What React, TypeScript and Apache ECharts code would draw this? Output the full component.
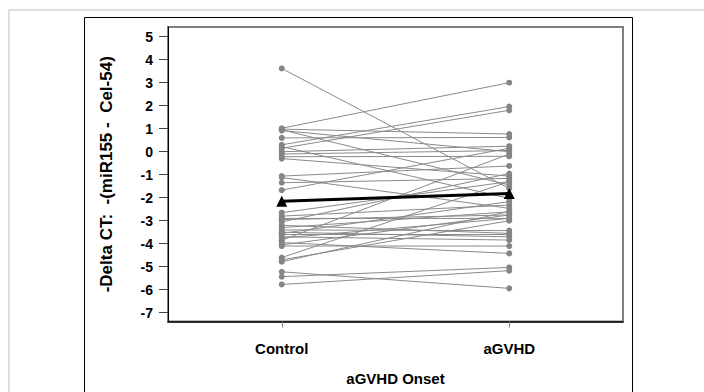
import React, { useEffect, useRef } from "react";
import * as echarts from "echarts";

const categories = ["Control", "aGVHD"];
const yTicks = [-7, 5];
const controlValues = [
  3.62, 1.02, 0.98, 0.95, 0.92, 0.6, 0.3, 0.22, 0.15, 0.0, -0.1, -0.22, -0.3, -1.06, -1.12, -1.35, -1.67,
  -2.65, -2.8, -2.9, -2.95, -3.05, -3.2, -3.3, -3.4, -3.5, -3.55, -3.7, -3.75, -3.85, -3.95, -4.05, -4.1,
  -4.6, -4.7, -4.78, -5.22, -5.43, -5.77, -3.6,
];
const agvhdValues = [
  -1.6, 3.0, 0.77, -1.45, 0.0, 0.62, 1.96, -2.03, 1.8, 0.24, 0.05, -0.2, -1.06, -0.62, -2.46, -1.16, 0.15,
  -1.3, -2.32, -2.9, -2.75, -0.95, -3.55, -2.61, -3.43, -3.7, -2.17, -3.84, -2.9, -0.1, -4.42, -2.75, -4.1,
  -1.3, -3.0, -2.6, -5.94, -5.03, -5.17, -3.6,
];
const meanValues = [-2.15, -1.82];

const FONT = "'Liberation Sans', Arial, sans-serif";

export default function App() {
  const ref = useRef<HTMLDivElement>(null);
  useEffect(() => {
    if (!ref.current) return;
    const chart = echarts.init(ref.current, null, { renderer: "svg" });
    const subjectSeries = controlValues.map((c, i) => ({
      type: "line",
      xAxisIndex: 0,
      yAxisIndex: 0,
      data: [c, agvhdValues[i]],
      symbol: "circle",
      symbolSize: 6,
      itemStyle: { color: "#858585" },
      lineStyle: { color: "#8a8a8a", width: 1 },
      silent: true,
      z: 2,
    }));
    chart.setOption({
      animation: false,
      backgroundColor: "#fff",
      graphic: [
        { type: "rect", shape: { x: 9, y: 10, width: 740, height: 420 }, style: { fill: "none", stroke: "#dedede", lineWidth: 2 } },
        { type: "rect", shape: { x: 84.5, y: 17.5, width: 548, height: 420 }, style: { fill: "none", stroke: "#000", lineWidth: 1 } },
      ],
      grid: [
        { left: 168, top: 27, width: 455, height: 294.5, show: true, borderColor: "#808080", borderWidth: 2, backgroundColor: "transparent" },
        { left: 168, top: 36.7, width: 455, height: 276, show: false },
      ],
      xAxis: [
        {
          type: "category",
          gridIndex: 0,
          data: categories,
          boundaryGap: true,
          axisLine: { show: true, onZero: false, lineStyle: { color: "#000", width: 1.5 } },
          axisTick: { show: true, alignWithLabel: true, length: 6, lineStyle: { color: "#808080" } },
          axisLabel: { fontFamily: FONT, fontWeight: "bold", fontSize: 15, color: "#000", margin: 19 },
          name: "aGVHD Onset",
          nameLocation: "middle",
          nameGap: 49,
          nameTextStyle: { fontFamily: FONT, fontWeight: "bold", fontSize: 15, color: "#000" },
          splitLine: { show: false },
        },
        { type: "category", gridIndex: 1, data: categories, show: false },
      ],
      yAxis: [
        {
          type: "value",
          gridIndex: 0,
          min: -7.38,
          max: 5.42,
          axisLine: { show: true, lineStyle: { color: "#000", width: 1 } },
          axisTick: { show: false },
          axisLabel: { show: false },
          splitLine: { show: false },
          name: "-Delta CT:  -(miR155 -  Cel-54)",
          nameLocation: "middle",
          nameRotate: 90,
          nameGap: 53,
          nameTextStyle: { fontFamily: FONT, fontWeight: "bold", fontSize: 17, color: "#000" },
        },
        {
          type: "value",
          gridIndex: 1,
          min: yTicks[0],
          max: yTicks[1],
          interval: 1,
          axisLine: { show: false },
          axisTick: { show: true, length: 9, lineStyle: { color: "#444" } },
          axisLabel: { fontFamily: FONT, fontWeight: "bold", fontSize: 14, color: "#000", margin: 15 },
          splitLine: { show: false },
        },
      ],
      series: [
        ...subjectSeries,
        {
          type: "line",
          xAxisIndex: 0,
          yAxisIndex: 0,
          data: meanValues,
          symbol: "triangle",
          symbolSize: 11,
          itemStyle: { color: "#000" },
          lineStyle: { color: "#000", width: 3 },
          z: 5,
        },
      ],
    });
    return () => chart.dispose();
  }, []);
  return <div ref={ref} style={{ position: "absolute", left: 0, top: 0, width: 704, height: 392 }} />;
}
